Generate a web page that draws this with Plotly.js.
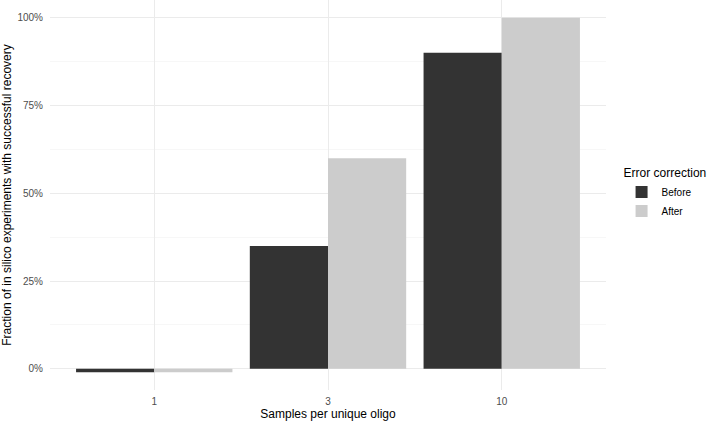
<!DOCTYPE html>
<html>
<head>
<meta charset="utf-8">
<script src="https://cdn.plot.ly/plotly-3.0.1.min.js"></script>
<style>html,body{margin:0;padding:0;background:#fff;}#chart{width:709px;height:421px;}</style>
</head>
<body>
<div id="chart"></div>
<script>
const categories = ["1", "3", "10"];
const seriesNames = ["Before", "After"];
const beforeValues = [-0.01, 0.35, 0.90];
const afterValues = [-0.01, 0.60, 1.00];
const yTickVals = [0, 0.25, 0.5, 0.75, 1];
const yTickText = ["0%", "25%", "50%", "75%", "100%"];

const colors = ["#333333", "#CCCCCC"];
const font = "Liberation Sans, Arial, Helvetica, sans-serif";

const traces = [beforeValues, afterValues].map((vals, i) => ({
  type: "bar",
  name: seriesNames[i],
  x: categories,
  y: vals,
  marker: {color: colors[i], line: {width: 0}},
  hoverinfo: "x+y+name"
}));

const layout = {
  width: 709,
  height: 421,
  margin: {l: 50, r: 103, t: 0, b: 31},
  paper_bgcolor: "#ffffff",
  plot_bgcolor: "#ffffff",
  font: {family: font, size: 10, color: "#4D4D4D"},
  barmode: "group",
  bargap: 0.1,
  bargroupgap: 0,
  xaxis: {
    type: "category",
    range: [-0.6, 2.6],
    showgrid: true,
    gridcolor: "#EBEBEB",
    gridwidth: 1,
    zeroline: false,
    showline: false,
    ticks: "outside",
    ticklen: 2,
    tickcolor: "rgba(0,0,0,0)",
    tickfont: {family: font, size: 10, color: "#4D4D4D"},
    title: {text: "Samples per unique oligo", font: {family: font, size: 12, color: "#000000"}, standoff: 3}
  },
  yaxis: {
    range: [-0.0605, 1.0505],
    tickvals: yTickVals,
    ticktext: yTickText,
    showgrid: true,
    gridcolor: "#EBEBEB",
    gridwidth: 1,
    zeroline: false,
    showline: false,
    ticks: "outside",
    ticklen: 4,
    tickcolor: "rgba(0,0,0,0)",
    minor: {tickvals: [0.125, 0.375, 0.625, 0.875], showgrid: true, gridcolor: "#F2F2F2", gridwidth: 0.6, ticks: ""},
    tickfont: {family: font, size: 10, color: "#4D4D4D"},
    title: {text: "Fraction of in silico experiments with successful recovery", font: {family: font, size: 12, color: "#000000"}, standoff: 4}
  },
  showlegend: true,
  legend: {
    x: 1.028,
    y: 0.585,
    xanchor: "left",
    yanchor: "top",
    bgcolor: "rgba(0,0,0,0)",
    title: {text: "Error correction", font: {family: font, size: 12, color: "#000000"}},
    font: {family: font, size: 10, color: "#000000"},
    tracegroupgap: 0,
    itemwidth: 30
  }
};

Plotly.newPlot("chart", traces, layout, {displayModeBar: false, staticPlot: true});
</script>
</body>
</html>
